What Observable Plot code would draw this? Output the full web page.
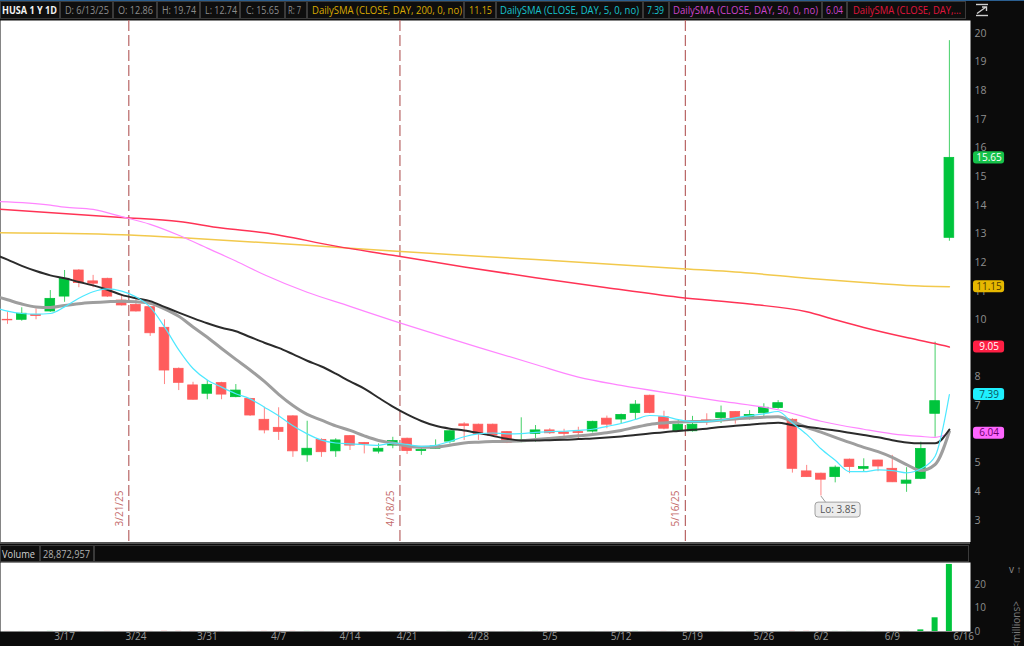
<!DOCTYPE html>
<html><head><meta charset="utf-8">
<script src="https://cdn.jsdelivr.net/npm/d3@7"></script>
<script src="https://cdn.jsdelivr.net/npm/@observablehq/plot@0.6"></script>
<style>
html,body{margin:0;padding:0;background:#0b0b0b;}
#root{position:relative;width:1024px;height:646px;overflow:hidden;background:#0b0b0b;font-family:'Open Sans',sans-serif;}
#root > *{position:absolute;left:0;}
</style>
</head><body><div id="root"></div>
<script>
// ---------------- DATA ----------------
const dates = ["3/11","3/12","3/13","3/14","3/17","3/18","3/19","3/20","3/21","3/24","3/25","3/26","3/27","3/28","3/31","4/1","4/2","4/3","4/4","4/7","4/8","4/9","4/10","4/11","4/14","4/15","4/16","4/17","4/21","4/22","4/23","4/24","4/25","4/28","4/29","4/30","5/1","5/2","5/5","5/6","5/7","5/8","5/9","5/12","5/13","5/14","5/15","5/16","5/19","5/20","5/21","5/22","5/23","5/27","5/28","5/29","5/30","6/2","6/3","6/4","6/5","6/6","6/9","6/10","6/11","6/12","6/13"];
const opens  = [10.0,10.0,10.17,10.29,10.81,11.72,11.34,11.43,10.67,10.52,10.44,9.72,8.29,7.71,7.42,7.79,7.3,7.24,6.51,6.23,6.63,5.27,5.81,5.41,5.94,5.70,5.4,5.61,5.85,5.42,5.5,5.75,6.35,6.34,6.34,6.08,5.73,6.02,6.14,6.07,6.08,6.1,6.55,6.52,6.75,7.35,6.6,6.11,6.11,6.49,6.57,6.78,6.58,6.74,6.92,6.51,4.71,4.63,4.51,5.12,4.8,5.09,4.8,4.28,4.45,6.72,12.86];
const highs  = [10.27,10.42,10.38,11.02,11.72,11.75,11.55,11.45,10.85,10.7,10.46,10.0,8.32,7.82,7.88,7.82,7.74,7.26,6.95,6.93,6.65,6.46,5.85,5.85,5.96,5.72,5.67,5.9,5.87,5.55,5.81,6.13,6.41,6.36,6.36,6.1,6.58,6.31,6.2,6.18,6.25,6.46,6.64,6.71,7.18,7.37,6.81,6.49,6.63,6.72,6.99,6.8,6.83,7.07,7.18,6.55,4.92,4.65,4.9,5.14,5.15,5.1,5.27,4.84,5.73,9.22,19.74];
const lows   = [9.84,9.95,10.0,10.26,10.61,11.12,11.12,10.78,10.48,10.27,9.42,7.74,7.53,7.2,7.21,7.21,7.28,6.63,6.02,5.79,5.2,5.03,5.2,5.2,5.44,5.32,5.32,5.5,5.3,5.27,5.49,5.67,5.79,5.79,5.94,5.68,5.71,5.73,6.0,5.9,5.85,6.05,6.2,6.37,6.51,6.72,6.16,6.1,6.08,6.31,6.38,6.36,6.5,6.63,6.88,4.65,4.5,3.85,4.31,4.63,4.68,4.7,4.32,3.98,4.42,5.9,12.74];
const closes = [9.98,10.21,10.13,10.73,11.43,11.28,11.26,10.81,10.5,10.29,9.53,8.23,7.8,7.21,7.73,7.39,7.53,6.66,6.14,6.09,5.41,5.5,5.38,5.79,5.61,5.65,5.5,5.77,5.42,5.46,5.58,6.11,6.29,6.02,5.96,5.71,5.79,6.14,6.04,6.02,6.05,6.44,6.34,6.68,7.04,6.75,6.2,6.34,6.34,6.45,6.74,6.55,6.68,6.93,7.09,4.8,4.51,4.42,4.84,4.86,4.86,4.88,4.33,4.39,5.49,7.16,15.65];
const volumes = [0.03,0.02,0.02,0.04,0.05,0.03,0.02,0.03,0.02,0.03,0.03,0.06,0.05,0.04,0.03,0.03,0.02,0.03,0.04,0.04,0.05,0.03,0.03,0.02,0.03,0.02,0.02,0.02,0.02,0.01,0.02,0.03,0.03,0.02,0.02,0.02,0.02,0.03,0.02,0.01,0.01,0.02,0.02,0.03,0.04,0.03,0.03,0.02,0.02,0.02,0.02,0.02,0.02,0.02,0.02,0.06,0.05,0.04,0.03,0.03,0.02,0.02,0.03,0.03,0.7,5.9,28.872957];

const priorDates = ["3/10"];
// per-bar moving averages, aligned with priorDates + dates
const sma5Values  = [10.45,10.3,10.22,10.2,10.22,10.45,10.75,10.98,11.08,11.0,10.8,10.44,9.75,8.95,8.3,7.9,7.65,7.42,7.24,6.95,6.65,6.3,6.02,5.8,5.7,5.67,5.64,5.62,5.7,5.65,5.58,5.62,5.76,5.92,6.02,6.05,6.02,6.03,6.07,6.1,6.11,6.14,6.18,6.28,6.38,6.52,6.66,6.63,6.52,6.45,6.45,6.5,6.58,6.65,6.72,6.8,6.4,6.0,5.5,5.1,4.7,4.7,4.76,4.74,4.66,4.8,5.24,7.39];
const sma10Values = [10.85,10.7,10.55,10.45,10.43,10.5,10.56,10.6,10.63,10.65,10.63,10.58,10.38,10.12,9.75,9.39,9.0,8.62,8.25,7.85,7.4,7.01,6.7,6.5,6.3,6.14,5.95,5.79,5.7,5.6,5.55,5.56,5.62,5.7,5.73,5.75,5.76,5.78,5.82,5.86,5.9,5.95,6.0,6.06,6.14,6.25,6.35,6.4,6.43,6.45,6.46,6.5,6.54,6.57,6.6,6.62,6.45,6.25,6.08,5.9,5.72,5.55,5.4,5.2,4.95,4.74,4.95,6.1];
const sma20Values = [12.3,12.1,11.88,11.7,11.55,11.45,11.32,11.2,11.05,10.87,10.75,10.65,10.45,10.25,10.06,9.88,9.72,9.6,9.4,9.2,9.02,8.8,8.57,8.37,8.12,7.85,7.6,7.28,6.97,6.7,6.47,6.3,6.2,6.14,6.05,5.95,5.85,5.79,5.79,5.8,5.81,5.84,5.86,5.89,5.93,5.98,6.03,6.08,6.12,6.16,6.2,6.26,6.3,6.34,6.38,6.41,6.32,6.27,6.2,6.14,6.06,5.98,5.9,5.8,5.72,5.69,5.69,6.17];
// slow moving averages read at selected sessions
const sma200Points = [["3/10",13.04],["3/21",12.97],["3/27",12.87],["4/9",12.6],["4/17",12.4],["5/2",12.1],["5/16",11.79],["5/23",11.63],["5/30",11.45],["6/5",11.3],["6/10",11.2],["6/13",11.15]];
const sma100Points = [["3/10",13.87],["3/21",13.57],["3/27",13.43],["4/1",13.2],["4/4",13.04],["4/11",12.57],["4/17",12.25],["4/25",11.84],["5/2",11.47],["5/9",11.12],["5/16",10.79],["5/23",10.55],["5/30",10.28],["6/3",10.0],["6/5",9.73],["6/10",9.38],["6/12",9.17],["6/13",9.05]];
const sma50Points  = [["3/10",14.13],["3/14",14.0],["3/17",13.93],["3/19",13.85],["3/21",13.6],["3/25",13.33],["3/27",12.95],["3/31",12.5],["4/2",12.05],["4/4",11.57],["4/9",10.96],["4/14",10.47],["4/17",9.97],["4/23",9.5],["4/28",9.04],["5/2",8.44],["5/7",8.0],["5/12",7.71],["5/16",7.39],["5/21",7.16],["5/28",6.86],["6/2",6.46],["6/5",6.18],["6/9",6.02],["6/11",5.93],["6/12",5.9],["6/13",6.04]];

const weekLabels = ["3/17","3/24","3/31","4/7","4/14","4/21","4/28","5/5","5/12","5/19","5/26","6/2","6/9","6/16"];
const expiryLabels = ["3/21/25","4/18/25","5/16/25"];
const priceTicks = [3,4,5,6,7,8,9,10,11,12,13,14,15,16,17,18,19,20];
const volumeTicks = [0,10,20];
const studyNames = ["DailySMA (CLOSE, DAY, 200, 0, no)","DailySMA (CLOSE, DAY, 5, 0, no)","DailySMA (CLOSE, DAY, 50, 0, no)","DailySMA (CLOSE, DAY,..."];
const studyLast = [11.15, 7.39, 6.04, 9.05];
const symbolLabel = "HUSA 1 Y 1D";
const lastDateLabel = "6/13/25";
const rangeLabel = "R: 7";
const volumeLabel = "Volume";
const volumeLast = "28,872,957";
const unitsLabel = "<millions>";

// ---------------- HELPERS ----------------
const allDates = priorDates.concat(dates);
const toIdx = md => allDates.indexOf(md) - priorDates.length;
const mdNum = md => { const p = md.split("/").map(Number); return p[0]*100 + p[1]; };
const weekPos = md => { const i = dates.findIndex(d => mdNum(d) >= mdNum(md)); return i < 0 ? dates.length : i; };
const expPos = lbl => { const i = dates.findIndex(d => mdNum(d) > mdNum(lbl)); return i - 0.5; };

const UP = "#00c43c", DOWN = "#ff5c5c", UPW = "#45d068", DOWNW = "#ff8585";
const GOLD = "#f2c94c", RED = "#ff3355", MAG = "#ff85ff", CYAN = "#4de8ff", BLACK = "#2b2b2b", GREY = "#9e9e9e";

const candles = dates.map((d, i) => ({i, o: opens[i], h: highs[i], l: lows[i], c: closes[i], up: closes[i] >= opens[i]}));
const vols = dates.map((d, i) => ({i, v: volumes[i], up: i === 0 ? closes[i] >= opens[i] : closes[i] >= closes[i-1]}));
const perBar = vals => allDates.map((d, k) => [d, vals[k]]);
const last = dates.length - 1;

const xScale = {type: "linear", domain: [-0.49, 67.48], axis: null};
const plotStyle = {background: "#0b0b0b", color: "#8f8f8f", fontFamily: "'Open Sans', sans-serif", fontSize: "10px", overflow: "visible"};

const tags = [
  {v: closes[last], bg: "#16c24a", fg: "#ffffff"},
  {v: studyLast[0], bg: "#e6b800", fg: "#4d3b00"},
  {v: studyLast[3], bg: "#ff1f44", fg: "#ffffff"},
  {v: studyLast[1], bg: "#1ff0ff", fg: "#0a5560"},
  {v: studyLast[2], bg: "#ff66ff", fg: "#6a006a"}
];

let lowI = 0; lows.forEach((l, i) => { if (l < lows[lowI]) lowI = i; });
const lowInfo = [{i: lowI, l: lows[lowI]}];

const lineOpts = (stroke, w) => ({x: d => toIdx(d[0]), y: d => d[1], stroke, strokeWidth: w, curve: "monotone-x", clip: true});

// ---------------- PRICE PANE ----------------
const price = Plot.plot({
  width: 1024, height: 522,
  marginLeft: 0, marginRight: 54, marginTop: 0, marginBottom: 0,
  x: xScale,
  y: {domain: [2.229, 20.443], axis: null},
  color: {type: "identity"},
  style: plotStyle,
  marks: [
    Plot.frame({fill: "white", stroke: "none"}),
    Plot.ruleX(expiryLabels.map(expPos), {stroke: "#b86565", strokeDasharray: "11,4", strokeWidth: 1.2}),
    Plot.text(expiryLabels, {x: d => expPos(d), frameAnchor: "bottom", dy: -34, dx: -6, rotate: -90, text: d => d, fill: "#c46a6a", fontSize: 10}),
    Plot.ruleX(candles, {x: "i", y1: "l", y2: "h", stroke: d => d.up ? UPW : DOWNW, strokeWidth: 1}),
    Plot.rect(candles, {x1: d => d.i - 0.34, x2: d => d.i + 0.34, y1: "o", y2: "c", fill: d => d.up ? UP : DOWN, stroke: d => d.up ? UP : DOWN, strokeWidth: 0.8}),
    Plot.line(sma200Points, lineOpts(GOLD, 1.5)),
    Plot.line(sma100Points, lineOpts(RED, 1.5)),
    Plot.line(sma50Points, lineOpts(MAG, 1.2)),
    Plot.line(perBar(sma10Values), lineOpts(GREY, 3)),
    Plot.line(perBar(sma20Values), lineOpts(BLACK, 2)),
    Plot.line(perBar(sma5Values), lineOpts(CYAN, 1.2)),
    Plot.link(lowInfo, {x1: d => d.i, y1: d => d.l, x2: d => d.i + 0.35, y2: d => d.l - 0.23, stroke: "#9a9a9a", strokeWidth: 1}),
    Plot.rect(lowInfo, {x1: d => d.i - 0.38, x2: d => d.i + 2.78, y1: d => d.l - 0.75, y2: d => d.l - 0.23, fill: "#ececec", stroke: "#a0a0a0", rx: 3}),
    Plot.text(lowInfo, {x: d => d.i + 1.2, y: d => d.l - 0.49, text: d => "Lo: " + d.l.toFixed(2), fill: "#555", fontSize: 10}),
    Plot.axisY(priceTicks, {anchor: "right", tickSize: 0, tickPadding: 4, fill: "#8f8f8f", fontSize: 10.5}),
    Plot.rect(tags, {x1: 67.69, x2: 69.87, y1: d => d.v - 0.21, y2: d => d.v + 0.21, fill: d => d.bg, rx: 3}),
    Plot.text(tags, {x: 68.78, y: "v", text: d => d.v.toFixed(2), fill: d => d.fg, fontSize: 10})
  ]
});

// ---------------- VOLUME PANE ----------------
const volume = Plot.plot({
  width: 1024, height: 84,
  marginLeft: 0, marginRight: 54, marginTop: 0, marginBottom: 15,
  x: xScale,
  y: {domain: [0, 29.7], axis: null},
  color: {type: "identity"},
  style: plotStyle,
  marks: [
    Plot.frame({fill: "white", stroke: "none"}),
    Plot.rect(vols, {x1: d => d.i - 0.21, x2: d => d.i + 0.21, y1: 0, y2: "v", fill: d => d.up ? UP : DOWN}),
    Plot.axisY(volumeTicks, {anchor: "right", tickSize: 0, tickPadding: 4, fill: "#8f8f8f", fontSize: 10}),
    Plot.text([unitsLabel], {frameAnchor: "right", dx: 46, dy: 4, rotate: -90, text: d => d, fill: "#7a7a7a", fontSize: 10}),
    Plot.text(weekLabels, {x: d => weekPos(d), frameAnchor: "bottom", dy: 8, text: d => d, fill: "#9a9a9a", fontSize: 10})
  ]
});

// ---------------- ASSEMBLY ----------------
const root = d3.select("#root");

// header bar
const GREYT = "#8c8c8c";
const headerItems = [
  {text: symbolLabel, color: "#f2f2f2", bold: true},
  {text: "D: " + lastDateLabel, color: GREYT},
  {text: "O: " + opens[last].toFixed(2), color: GREYT},
  {text: "H: " + highs[last].toFixed(2), color: GREYT},
  {text: "L: " + lows[last].toFixed(2), color: GREYT},
  {text: "C: " + closes[last].toFixed(2), color: GREYT},
  {text: rangeLabel, color: GREYT},
  {text: studyNames[0], color: "#d9a900"},
  {text: studyLast[0].toFixed(2), color: "#d9a900"},
  {text: studyNames[1], color: "#17c3cf"},
  {text: studyLast[1].toFixed(2), color: "#17c3cf"},
  {text: studyNames[2], color: "#cc44cc"},
  {text: studyLast[2].toFixed(2), color: "#cc44cc"},
  {text: studyNames[3], color: "#e0143c"}
];
const cellEdges = [0,60,113,157,200,240,285,307,464,496,643,669,822,847,966];
const textX = [2,65,118,162,205,246,288,312,469,500,647,673,826,853];
const textW = [55,44,35,34,32,33,13,150,23,139,17,145,17,108];

const hdr = root.append("svg").attr("width", 1024).attr("height", 20).style("top", "0px");
hdr.append("rect").attr("width", 1024).attr("height", 20).attr("fill", "#0b0b0b");
hdr.append("rect").attr("width", 1024).attr("height", 1).attr("fill", "#2b5f90");
headerItems.forEach((it, k) => {
  hdr.append("rect").attr("x", cellEdges[k] + 0.5).attr("y", 1.5).attr("width", cellEdges[k+1] - cellEdges[k] - 1).attr("height", 17)
    .attr("fill", "#0e0e0e").attr("stroke", "#3a3a3a");
  hdr.append("text").attr("x", textX[k]).attr("y", 14).attr("textLength", textW[k]).attr("lengthAdjust", "spacingAndGlyphs")
    .attr("fill", it.color).attr("font-size", 11).attr("font-weight", it.bold ? 700 : 400)
    .attr("font-family", "'Open Sans', sans-serif").text(it.text);
});
// zoom icon
const ic = hdr.append("g").attr("stroke", "#cfcfcf").attr("stroke-width", 1.4).attr("fill", "none");
ic.append("path").attr("d", "M976,4.5 H988");
ic.append("path").attr("d", "M976,15.5 H988");
ic.append("path").attr("d", "M977,13.5 L986,7 M982,7 H986.5 V11");

// price pane
root.node().appendChild(price);
d3.select(price).style("position", "absolute").style("top", "20px").style("left", "0px");

// volume header
const vh = root.append("svg").attr("width", 1024).attr("height", 20).style("top", "542px");
vh.append("rect").attr("width", 1024).attr("height", 20).attr("fill", "#0b0b0b");
vh.append("rect").attr("width", 970).attr("height", 2).attr("fill", "#555");
const vItems = [{text: volumeLabel, color: "#d0d0d0"}, {text: volumeLast, color: "#b0b0b0"}];
const vEdges = [0, 40, 94], vTextX = [2, 43], vTextW = [33, 47];
vItems.forEach((it, k) => {
  vh.append("rect").attr("x", vEdges[k] + 0.5).attr("y", 3.5).attr("width", vEdges[k+1] - vEdges[k] - 1).attr("height", 16)
    .attr("fill", "#0e0e0e").attr("stroke", "#3a3a3a");
  vh.append("text").attr("x", vTextX[k]).attr("y", 15.5).attr("textLength", vTextW[k]).attr("lengthAdjust", "spacingAndGlyphs")
    .attr("fill", it.color).attr("font-size", 10.5).attr("font-family", "'Open Sans', sans-serif").text(it.text);
});
vh.append("rect").attr("x", 94.5).attr("y", 3.5).attr("width", 874).attr("height", 16).attr("fill", "#0b0b0b").attr("stroke", "#3a3a3a");

// volume pane
root.node().appendChild(volume);
d3.select(volume).style("position", "absolute").style("top", "562px").style("left", "0px");
</script>
</body></html>
